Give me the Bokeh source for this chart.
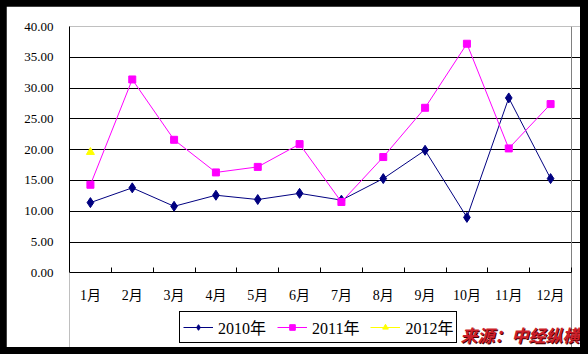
from bokeh.plotting import figure
from bokeh.layouts import column
from bokeh.models import (Range1d, FixedTicker, NumeralTickFormatter, Legend, LegendItem, Grid, Label)
from bokeh.embed import file_html
from bokeh.resources import INLINE

months = ["1月", "2月", "3月", "4月", "5月", "6月", "7月", "8月", "9月", "10月", "11月", "12月"]
v2010 = [11.4, 13.8, 10.8, 12.6, 11.9, 12.9, 11.8, 15.3, 19.9, 9.0, 28.4, 15.3]
v2011 = [14.3, 31.4, 21.6, 16.3, 17.2, 20.9, 11.5, 18.8, 26.8, 37.2, 20.2, 27.4]
v2012 = [19.6]
series_names = ["2010年", "2011年", "2012年"]
y_ticks = [0, 5, 10, 15, 20, 25, 30, 35, 40]
source_note = "来源：中经纵横"

FONT = "Liberation Serif, Noto Sans CJK SC"

pos = list(range(1, len(months) + 1))
x_lo, x_hi = 0.5, len(months) + 0.5
y_lo, y_hi = y_ticks[0], y_ticks[-1]

# frame spans the whole white page below/right of the plot area so that the
# legend and the source note (drawn inside the frame) are not clipped
p = figure(width=574, height=341, output_backend="svg", toolbar_location=None,
           x_range=Range1d(x_lo, x_hi + 0.215), y_range=Range1d(y_lo - 12.13, y_hi),
           min_border_left=63, min_border_right=0, min_border_top=20, min_border_bottom=0,
           border_fill_color="white", background_fill_color="white",
           outline_line_color=None)

# x axis drawn at y = 0
xa = p.xaxis[0]
xa.fixed_location = 0
xa.bounds = (x_lo, x_hi)
xa.ticker = FixedTicker(ticks=pos, minor_ticks=[i + 0.5 for i in pos])
xa.major_label_overrides = {i: m for i, m in zip(pos, months)}
xa.major_tick_in = 0
xa.major_tick_out = 0
xa.minor_tick_in = 5
xa.minor_tick_out = 0
xa.minor_tick_line_color = "black"
xa.axis_line_color = "black"
xa.major_label_text_font = FONT
xa.major_label_text_font_size = "14px"
xa.major_label_text_color = "black"
xa.major_label_standoff = 15

ya = p.yaxis[0]
ya.bounds = (y_lo, y_hi)
ya.ticker = FixedTicker(ticks=y_ticks)
ya.formatter = NumeralTickFormatter(format="0.00")
ya.major_tick_in = 0
ya.major_tick_out = 0
ya.minor_tick_line_color = None
ya.axis_line_color = "black"
ya.major_label_text_font = FONT
ya.major_label_text_font_size = "13px"
ya.major_label_text_color = "black"
ya.major_label_standoff = 16

p.xgrid.visible = False
p.ygrid.ticker = FixedTicker(ticks=y_ticks[1:-1])
p.ygrid.bounds = (x_lo, x_hi)
p.ygrid.grid_line_color = "black"
p.ygrid.grid_line_width = 1

# grey top and right borders of the plot area
p.add_layout(Grid(dimension=1, ticker=FixedTicker(ticks=[y_hi]), bounds=(x_lo, x_hi),
                  grid_line_color="#808080"))
p.add_layout(Grid(dimension=0, ticker=FixedTicker(ticks=[x_hi]), bounds=(y_lo, y_hi),
                  grid_line_color="#808080"))

# series
l1 = p.line(pos, v2010, line_color="#000080", line_width=1)
s1 = p.scatter(pos, v2010, marker="diamond", size=10, fill_color="#000080", line_color="#000080")
l2 = p.line(pos, v2011, line_color="#FF00FF", line_width=1)
s2 = p.scatter(pos, v2011, marker="square", size=7, fill_color="#FF00FF", line_color="#FF00FF")
l3 = p.line(pos[:len(v2012)], v2012, line_color="#FFFF00", line_width=1)
s3 = p.scatter(pos[:len(v2012)], v2012, marker="triangle", size=8, fill_color="#FFFF00", line_color="#FFFF00")

legend = Legend(items=[LegendItem(label=series_names[0], renderers=[l1, s1]),
                       LegendItem(label=series_names[1], renderers=[l2, s2]),
                       LegendItem(label=series_names[2], renderers=[l3, s3])],
                orientation="horizontal", location=(110, 4),
                border_line_color="black", border_line_width=1, border_line_alpha=1,
                background_fill_color="white", background_fill_alpha=1,
                padding=3, spacing=11, margin=0, label_standoff=5,
                glyph_width=30, glyph_height=14, label_height=16,
                label_text_font=FONT, label_text_font_size="16px", label_text_color="black")
p.add_layout(legend, "center")

# source watermark (with a dark drop shadow)
p.add_layout(Label(x=455, y=329, x_units="canvas", y_units="canvas", text=source_note,
                   text_font="Noto Sans CJK SC", text_font_size="17px", text_font_style="bold italic",
                   text_color="#4a0000", text_baseline="middle"))
p.add_layout(Label(x=454, y=328, x_units="canvas", y_units="canvas", text=source_note,
                   text_font="Noto Sans CJK SC", text_font_size="17px", text_font_style="bold italic",
                   text_color="#cc1f2a", text_baseline="middle"))

lay = column(p, styles={"background-color": "black", "padding": "6px 8px 7px 6px"})

open("out.html", "w").write(file_html(lay, INLINE))
